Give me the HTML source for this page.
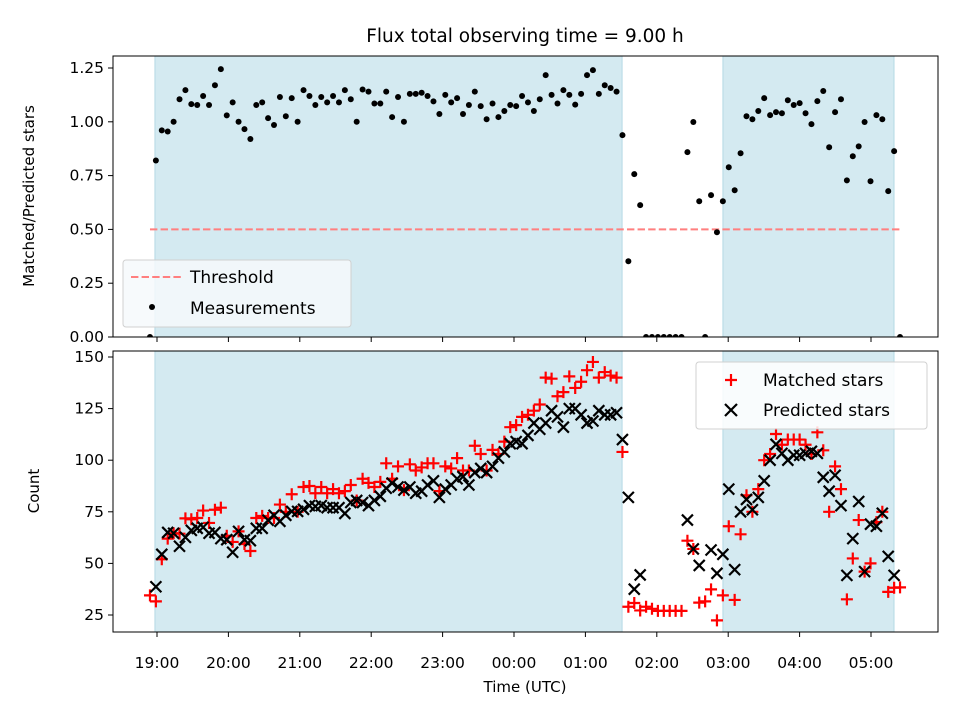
<!DOCTYPE html>
<html><head><meta charset="utf-8"><style>
html,body{margin:0;padding:0;background:#fff;}
svg{display:block;font-family:"DejaVu Sans","Liberation Sans",sans-serif;}
</style></head><body>
<svg id="chart" width="960" height="720" viewBox="0 0 960 720" xmlns="http://www.w3.org/2000/svg">
<text x="525" y="42" font-size="18.5" text-anchor="middle">Flux total observing time = 9.00 h</text>
<g id="top"></g><g id="bot"></g>
<text x="525" y="692" font-size="15" text-anchor="middle">Time (UTC)</text>
<text transform="translate(34,196) rotate(-90)" font-size="15" text-anchor="middle">Matched/Predicted stars</text>
<text transform="translate(39,491) rotate(-90)" font-size="15" text-anchor="middle">Count</text>
</svg>
<script>
const ratio=[0,
.82,.96,.955,1.0,1.105,1.147,1.082,1.078,1.12,1.078,1.17,1.245,1.03,1.09,1.0,.966,.92,1.078,1.09,1.017,.985,1.115,1.026,1.11,1.0,1.147,1.12,1.078,1.115,1.09,1.12,1.09,1.147,1.105,1.0,1.15,1.14,1.085,1.085,1.14,1.022,1.115,1.0,1.13,
1.13,1.135,1.12,1.095,1.036,1.125,1.09,1.11,1.036,1.078,1.14,1.073,1.012,1.085,1.022,1.05,1.078,1.073,1.12,1.09,1.05,1.105,1.217,1.125,1.085,1.147,1.125,1.08,1.13,1.217,1.24,1.13,1.17,1.157,1.14,
.938,.352,.757,.613,0,0,0,0,0,0,0,.859,.999,.631,0,.659,.487,.631,.789,.682,.854,1.026,1.012,1.05,1.11,1.031,1.045,1.04,1.1,1.078,1.087,1.04,.989,1.096,1.143,.882,1.045,1.105,.728,.84,.886,.999,.724,1.031,1.012,.678,.864,0];
const predicted=[null,
38.7,54.4,65,64.6,58.3,62.6,66,67,67.5,64.6,65,62,61.5,55.4,65.5,61.5,61,67,67,70.9,73.3,70.4,73.3,75.2,75.2,76.2,78,77.6,78,77,77,77,74.2,79.5,80.5,79.5,78,80.5,82.5,86.4,88.9,87,85.5,87,
84,85,88,90,82,86,88,91,92,88,94,96,94,97,101,104,108,109,108,112,118,115,118,124,121,116,125,125,122,118,119,124,122,122,123,
110,82,37.5,44.4,null,null,null,null,null,null,null,71,57,49,null,56.5,45.2,54.4,86,47,75,81,76,82,90,100,107.7,103.3,100,102.4,102.4,103.3,104.3,103.3,91.7,85,92.7,78,44.2,62,80,46,69,68,74.3,53.4,44.2,null];
const matched=[34.5,
31.6,52,62,64.6,64.4,71.8,71.4,72,75.6,69.6,76,77,63.4,60.4,65.5,59.4,56,72,73,72,72,78.5,75,83.5,75,87,87.5,84,87,84,86,84,85,88,80.5,91,89,87,89.5,98.5,91,97,85.5,98,
95,96.5,98.5,98.5,85,97,96,101,95,95,107,103,95,105,103,109,116,117,121,122,124,127,140,139.5,131,133,140.6,135,138,143.6,147.6,140,142.7,141,140,
104,29,30.8,27.2,29,28,27,27,27,27,27,61,57,31,31.6,37.4,22.4,34.5,68,32.3,64.1,83,75,86,100,103,112.7,107.5,110,110,110,107.5,103,113.5,104.8,75,97,86,32.6,52.4,71,46,50,70,75,36.2,38.2,38.4];
const startMin=-5.9, stepMin=4.963; // sample times, minutes after 19:00
const observingSpans=[[-1.7,390.8],[475.6,619.3]];
const threshold=0.5;
const xTickLabels=["19:00","20:00","21:00","22:00","23:00","00:00","01:00","02:00","03:00","04:00","05:00"];
const topTicks=[0,0.25,0.5,0.75,1.0,1.25];
const botTicks=[25,50,75,100,125,150];

const NS="http://www.w3.org/2000/svg";
const L=113,R=938;
const xs=m=>157+m*71.4/60;
const yTop=v=>337-v*215.2;
const yBot=v=>615-(v-25)*2.064;
function mk(tag,attrs,parent){const e=document.createElementNS(NS,tag);for(const k in attrs)e.setAttribute(k,attrs[k]);parent.appendChild(e);return e;}
const svg=document.getElementById('chart');
const defs=mk('defs',{},svg);
const cpT=mk('clipPath',{id:'cpT'},defs);mk('rect',{x:L,y:56,width:R-L,height:281},cpT);
const cpB=mk('clipPath',{id:'cpB'},defs);mk('rect',{x:L,y:351,width:R-L,height:281},cpB);

function panel(g,top,bot,cp,name){
  const bg=mk('g',{'clip-path':'url(#'+cp+')'},g);
  observingSpans.forEach((s,k)=>{
    const r=mk('rect',{x:xs(s[0]),y:top,width:xs(s[1])-xs(s[0]),height:bot-top,fill:'#d4eaf1',stroke:'#bcdde7','stroke-width':1.2},bg);
    
    
  });
  return bg;
}
function frame(g,top,bot,name){
  const f=mk('rect',{x:L,y:top,width:R-L,height:bot-top,fill:'none',stroke:'#000','stroke-width':1},g);
  
  
}
const gT=document.getElementById('top'),gB=document.getElementById('bot');
const bgT=panel(gT,56,337,'cpT','top');
const bgB=panel(gB,351,632,'cpB','bottom');

const th=mk('line',{x1:xs(startMin),x2:xs(startMin+stepMin*(ratio.length-1)),y1:yTop(threshold),y2:yTop(threshold),stroke:'#ff7f7f','stroke-width':2,'stroke-dasharray':'7.4,3.2'},bgT);



ratio.forEach((v,i)=>{
  const c=mk('circle',{cx:xs(startMin+i*stepMin),cy:yTop(v),r:3,fill:'#000'},bgT);
  
  
});
matched.forEach((v,i)=>{
  if(v==null)return;
  const x=xs(startMin+i*stepMin),y=yBot(v),s=6;
  const p=mk('path',{d:`M${x-s},${y}H${x+s}M${x},${y-s}V${y+s}`,stroke:'#ff0000','stroke-width':2.2,fill:'none'},bgB);
  
  
});
predicted.forEach((v,i)=>{
  if(v==null)return;
  const x=xs(startMin+i*stepMin),y=yBot(v),s=5.5;
  const p=mk('path',{d:`M${x-s},${y-s}L${x+s},${y+s}M${x-s},${y+s}L${x+s},${y-s}`,stroke:'#000','stroke-width':2.2,fill:'none'},bgB);
  
  
});
frame(gT,56,337,'top');frame(gB,351,632,'bottom');

topTicks.forEach(v=>{
  const y=yTop(v);
  mk('line',{x1:L-5,x2:L,y1:y,y2:y,stroke:'#000','stroke-width':1},gT);
  const t=mk('text',{x:L-9,y:y+5,'font-size':15.5,'text-anchor':'end'},gT);
  t.textContent=v.toFixed(2);
  
  
});
botTicks.forEach(v=>{
  const y=yBot(v);
  mk('line',{x1:L-5,x2:L,y1:y,y2:y,stroke:'#000','stroke-width':1},gB);
  const t=mk('text',{x:L-9,y:y+5,'font-size':15.5,'text-anchor':'end'},gB);
  t.textContent=String(v);
  
  
});
xTickLabels.forEach((lab,k)=>{
  const x=xs(k*60);
  mk('line',{x1:x,x2:x,y1:337,y2:342,stroke:'#000','stroke-width':1},gT);
  mk('line',{x1:x,x2:x,y1:632,y2:637,stroke:'#000','stroke-width':1},gB);
  const t=mk('text',{x:x,y:668,'font-size':15.5,'text-anchor':'middle'},gB);
  t.textContent=lab;
  
  
});

const lgT=mk('g',{},gT);


mk('rect',{x:123,y:260,width:228,height:67,rx:3,fill:'#f6f9fb','fill-opacity':0.85,stroke:'#d0d0d0'},lgT);
mk('line',{x1:131,x2:181,y1:277,y2:277,stroke:'#ff7f7f','stroke-width':2,'stroke-dasharray':'7.4,3.2'},lgT);
const t1=mk('text',{x:190,y:283,'font-size':17},lgT);t1.textContent='Threshold';
mk('circle',{cx:152,cy:307,r:3,fill:'#000'},lgT);
const t2=mk('text',{x:190,y:314,'font-size':17},lgT);t2.textContent='Measurements';

const lgB=mk('g',{},gB);


mk('rect',{x:696,y:362,width:231,height:67,rx:3,fill:'#fff','fill-opacity':0.85,stroke:'#d0d0d0'},lgB);
mk('path',{d:'M725,380H737M731,374V386',stroke:'#ff0000','stroke-width':2.2},lgB);
const t3=mk('text',{x:763,y:386,'font-size':17},lgB);t3.textContent='Matched stars';
mk('path',{d:'M725,404L737,416M725,416L737,404',stroke:'#000','stroke-width':2.2},lgB);
const t4=mk('text',{x:763,y:416,'font-size':17},lgB);t4.textContent='Predicted stars';
</script>
</body></html>
